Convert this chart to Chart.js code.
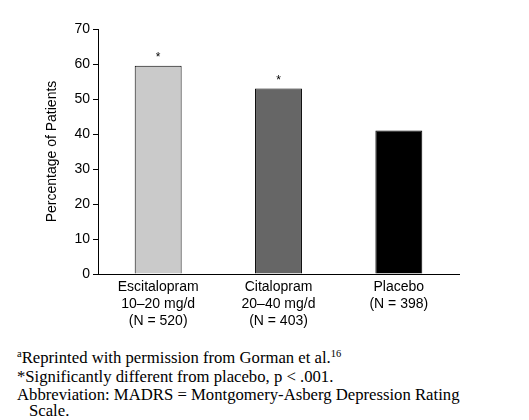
<!DOCTYPE html>
<html>
<head>
<meta charset="utf-8">
<script src="https://cdn.jsdelivr.net/npm/chart.js@4.4.0/dist/chart.umd.min.js"></script>
<style>
  body { margin: 0; background: #fff; }
  #wrap { position: relative; width: 529px; height: 420px; }
  #chart { position: absolute; left: 0; top: 0; }
  .note { position: absolute; left: 17px; font-family: "Liberation Serif", "Times New Roman", serif; font-size: 16.7px; color: #000; white-space: nowrap; line-height: 18px; }
  .note sup { font-size: 10.5px; vertical-align: 6px; line-height: 0; }
</style>
</head>
<body>
<div id="wrap">
  <canvas id="chart" width="529" height="340"></canvas>
  <div class="note" style="top:349px"><sup>a</sup>Reprinted with permission from Gorman et al.<sup>16</sup></div>
  <div class="note" style="top:368px">*Significantly different from placebo, p &lt; .001.</div>
  <div class="note" style="top:386px">Abbreviation: MADRS = Montgomery-Asberg Depression Rating</div>
  <div class="note" style="top:402px; left:29px">Scale.</div>
</div>
<script>
// chart data
const groups = [
    ['Escitalopram', '10\u201320 mg/d', '(N = 520)'],
    ['Citalopram', '20\u201340 mg/d', '(N = 403)'],
    ['Placebo', '(N = 398)']
];
const percentPatients = [59.5, 53, 41];
const significance = ['*', '*', ''];
const barColors = ['#cacaca', '#666666', '#000000'];
const yTicks = [0, 10, 20, 30, 40, 50, 60, 70];

const sans = '"Liberation Sans", Arial, sans-serif';

// asterisks over the bars
const starPlugin = {
    id: 'stars',
    afterDatasetsDraw(chart) {
        const ctx = chart.ctx;
        const meta = chart.getDatasetMeta(0);
        ctx.save();
        ctx.fillStyle = '#000';
        ctx.font = '12px ' + sans;
        ctx.textAlign = 'center';
        ctx.textBaseline = 'middle';
        meta.data.forEach((bar, i) => {
            if (significance[i]) ctx.fillText(significance[i], bar.x, bar.y - 8);
        });
        ctx.restore();
    }
};

const ctx = document.getElementById('chart').getContext('2d');
new Chart(ctx, {
    type: 'bar',
    data: {
        labels: groups,
        datasets: [{
            data: percentPatients,
            backgroundColor: barColors,
            borderColor: '#000',
            borderWidth: 1,
            borderSkipped: 'bottom',
            categoryPercentage: 1,
            barPercentage: 0.39
        }]
    },
    options: {
        responsive: false,
        animation: false,
        layout: { padding: { left: 0, top: 29, right: 70, bottom: 0 } },
        plugins: {
            legend: { display: false },
            tooltip: { enabled: false }
        },
        scales: {
            y: {
                min: 0,
                max: 70,
                afterFit(scale) { scale.width = 98; },
                afterBuildTicks(scale) { scale.ticks = yTicks.map(v => ({ value: v })); },
                grid: { drawOnChartArea: false, drawTicks: true, tickLength: 5, color: '#000' },
                border: { display: true, color: '#000', width: 1 },
                ticks: {
                    color: '#000',
                    padding: 3,
                    font: { family: sans, size: 14 }
                },
                title: {
                    display: true,
                    text: 'Percentage of Patients',
                    color: '#000',
                    padding: { top: 44, bottom: 0 },
                    font: { family: sans, size: 14 }
                }
            },
            x: {
                afterFit(scale) { scale.height = 66; },
                grid: { display: false, drawTicks: false },
                border: { display: true, color: '#000', width: 1 },
                ticks: {
                    color: '#000',
                    padding: 5,
                    maxRotation: 0,
                    autoSkip: false,
                    font: { family: sans, size: 14, lineHeight: 1.2 }
                }
            }
        }
    },
    plugins: [starPlugin]
});
</script>
</body>
</html>
